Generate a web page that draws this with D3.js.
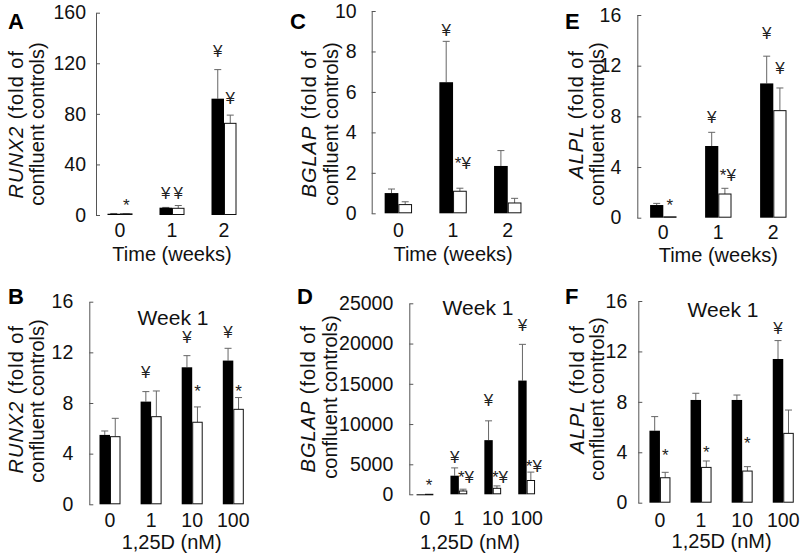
<!DOCTYPE html>
<html>
<head>
<meta charset="utf-8">
<script src="https://cdn.jsdelivr.net/npm/d3@7"></script>
<style>
  html, body { margin: 0; padding: 0; background: #fff; }
  svg { display: block; }
</style>
</head>
<body>
<svg id="chart" width="800" height="559"></svg>
<script>
// ---------------- DATA ----------------
const timeCategories = ["0", "1", "2"];
const doseCategories = ["0", "1", "10", "100"];

// Panel A: RUNX2 over time
const runx2TimeBlack    = [1.0, 5.8, 92];
const runx2TimeBlackErr = [1.2, 6.0, 115];
const runx2TimeWhite    = [0.9, 5.3, 72.5];
const runx2TimeWhiteErr = [1.0, 7.5, 79];
const runx2TimeTicks    = [0, 40, 80, 120, 160];

// Panel C: BGLAP over time
const bglapTimeBlack    = [1.0, 6.48, 2.34];
const bglapTimeBlackErr = [1.2, 8.5, 3.1];
const bglapTimeWhite    = [0.43, 1.09, 0.51];
const bglapTimeWhiteErr = [0.57, 1.24, 0.74];
const bglapTimeTicks    = [0, 2, 4, 6, 8, 10];

// Panel E: ALPL over time
const alplTimeBlack    = [1.0, 5.66, 10.6];
const alplTimeBlackErr = [1.13, 6.74, 12.75];
const alplTimeWhite    = [0.07, 1.87, 8.45];
const alplTimeWhiteErr = [0.07, 2.32, 10.24];
const alplTimeTicks    = [0, 4, 8, 12, 16];

// Panel B: RUNX2 dose, week 1
const runx2DoseBlack    = [5.48, 8.11, 10.82, 11.35];
const runx2DoseBlackErr = [5.79, 8.9, 11.74, 12.32];
const runx2DoseWhite    = [5.34, 6.92, 6.48, 7.5];
const runx2DoseWhiteErr = [6.79, 8.95, 7.69, 8.43];
const runx2DoseTicks    = [0, 4, 8, 12, 16];

// Panel D: BGLAP dose, week 1
const bglapDoseBlack    = [1, 3100, 8000, 15400];
const bglapDoseBlackErr = [1, 4400, 10400, 19900];
const bglapDoseWhite    = [0.4, 550, 1000, 2300];
const bglapDoseWhiteErr = [0.4, 850, 1400, 3700];
const bglapDoseTicks    = [0, 5000, 10000, 15000, 20000, 25000];

// Panel F: ALPL dose, week 1
const alplDoseBlack    = [5.71, 8.15, 8.15, 11.4];
const alplDoseBlackErr = [6.83, 8.68, 8.54, 12.86];
const alplDoseWhite    = [1.98, 2.8, 2.51, 5.5];
const alplDoseWhiteErr = [2.41, 3.31, 2.86, 7.35];
const alplDoseTicks    = [0, 4, 8, 12, 16];

// Significance marks: [group index, series ("b" black / "w" white), symbol, y value]
const runx2TimeMarks = [[0, "w", "*", 10.3], [1, "b", "¥", 17.4], [1, "w", "¥", 17.4], [2, "b", "¥", 129.4], [2, "w", "¥", 92.7]];
const bglapTimeMarks = [[1, "b", "¥", 9.06], [1, "w", "*¥", 2.49]];
const alplTimeMarks  = [[0, "w", "*", 1.26], [1, "b", "¥", 7.97], [1, "w", "*¥", 3.37], [2, "b", "¥", 14.58], [2, "w", "¥", 11.79]];
const runx2DoseMarks = [[1, "b", "¥", 10.47], [2, "b", "¥", 13.24], [2, "w", "*", 9.19], [3, "b", "¥", 13.63], [3, "w", "*", 9.19]];
const bglapDoseMarks = [[0, "w", "*", 2100], [1, "b", "¥", 5944], [1, "w", "*¥", 2933], [2, "b", "¥", 12988], [2, "w", "*¥", 2933], [3, "b", "¥", 22304], [3, "w", "*¥", 4700]];
const alplDoseMarks  = [[0, "w", "*", 4.05], [1, "w", "*", 4.26], [2, "w", "*", 5.03], [3, "b", "¥", 13.84]];

// ---------------- LAYOUT ----------------
const FONT = "'Liberation Sans', Arial, Helvetica, sans-serif";
const panels = [
  { letter: "A", gene: "RUNX2", cats: timeCategories, black: runx2TimeBlack, blackErr: runx2TimeBlackErr, white: runx2TimeWhite, whiteErr: runx2TimeWhiteErr, ticks: runx2TimeTicks, marks: runx2TimeMarks,
    axisX: 96, bandStart: 94, step: 52, barW: 12.5, yBot: 215, yTop: 12.7, tickGap: 10, xTitle: "Time (weeks)",
    line1X: 16, line2X: 37, line1Top: 50, line2Mid: 124, letterX: 8, letterY: 29, xLabY: 230, xTitleY: 254 },
  { letter: "C", gene: "BGLAP", cats: timeCategories, black: bglapTimeBlack, blackErr: bglapTimeBlackErr, white: bglapTimeWhite, whiteErr: bglapTimeWhiteErr, ticks: bglapTimeTicks, marks: bglapTimeMarks,
    axisX: 371.7, bandStart: 371, step: 54.7, barW: 13.7, yBot: 213.3, yTop: 11, tickGap: 15, xTitle: "Time (weeks)",
    line1X: 309, line2X: 331, line1Top: 50, line2Mid: 124, letterX: 290, letterY: 29, xLabY: 230, xTitleY: 254 },
  { letter: "E", gene: "ALPL", cats: timeCategories, black: alplTimeBlack, blackErr: alplTimeBlackErr, white: alplTimeWhite, whiteErr: alplTimeWhiteErr, ticks: alplTimeTicks, marks: alplTimeMarks,
    axisX: 637.3, bandStart: 635.8, step: 55, barW: 13.2, yBot: 217.7, yTop: 15, tickGap: 16, xTitle: "Time (weeks)",
    line1X: 576, line2X: 597, line1Top: 50, line2Mid: 124, letterX: 565, letterY: 29, xLabY: 232, xTitleY: 255 },
  { letter: "B", gene: "RUNX2", cats: doseCategories, black: runx2DoseBlack, blackErr: runx2DoseBlackErr, white: runx2DoseWhite, whiteErr: runx2DoseWhiteErr, ticks: runx2DoseTicks, marks: runx2DoseMarks,
    axisX: 89.3, bandStart: 89.45, step: 41.1, barW: 10.5, yBot: 504.3, yTop: 301.7, tickGap: 16, xTitle: "1,25D (nM)",
    line1X: 16, line2X: 37.3, line1Top: 325, line2Mid: 401, letterX: 8, letterY: 304, xLabY: 520, xTitleY: 542,
    weekX: 173, weekY: 318 },
  { letter: "D", gene: "BGLAP", cats: doseCategories, black: bglapDoseBlack, blackErr: bglapDoseBlackErr, white: bglapDoseWhite, whiteErr: bglapDoseWhiteErr, ticks: bglapDoseTicks, marks: bglapDoseMarks,
    axisX: 409.3, bandStart: 408, step: 33.9, barW: 8.4, yBot: 494.3, yTop: 303.3, yBreak: 464.3, tickGap: 16, xTitle: "1,25D (nM)",
    line1X: 308.3, line2X: 330, line1Top: 325, line2Mid: 397, letterX: 297, letterY: 304, xLabY: 518, xTitleY: 542,
    weekX: 478, weekY: 308, xTitleX: 470 },
  { letter: "F", gene: "ALPL", cats: doseCategories, black: alplDoseBlack, blackErr: alplDoseBlackErr, white: alplDoseWhite, whiteErr: alplDoseWhiteErr, ticks: alplDoseTicks, marks: alplDoseMarks,
    axisX: 638.3, bandStart: 639.4, step: 41.1, barW: 10.5, yBot: 502.7, yTop: 301, tickGap: 11, xTitle: "1,25D (nM)",
    line1X: 576.7, line2X: 597, line1Top: 325, line2Mid: 399, letterX: 565, letterY: 304, xLabY: 520, xTitleY: 541,
    weekX: 723, weekY: 310 }
];

const svg = d3.select("#chart");

panels.forEach(p => {
  const g = svg.append("g");
  const n = p.cats.length;
  const x = d3.scaleBand().domain(p.cats).range([p.bandStart, p.bandStart + p.step * n]).padding(0);
  const maxTick = p.ticks[p.ticks.length - 1];
  let y;
  if (p.yBreak !== undefined) {
    y = d3.scaleLinear().domain([0, p.ticks[1], maxTick]).range([p.yBot, p.yBreak, p.yTop]);
  } else {
    y = d3.scaleLinear().domain([0, maxTick]).range([p.yBot, p.yTop]);
  }
  const cx = c => x(c) + x.bandwidth() / 2;

  // y axis
  const axis = d3.axisLeft(y).tickValues(p.ticks).tickSizeInner(-4).tickSizeOuter(0)
    .tickPadding(p.tickGap).tickFormat(d3.format("d"));
  const ag = g.append("g").attr("transform", `translate(${p.axisX},0)`).call(axis);
  ag.select(".domain").attr("stroke", "#555").attr("stroke-width", 1);
  ag.selectAll(".tick line").attr("stroke", "#555").attr("stroke-width", 1);
  ag.selectAll(".tick text").attr("font-family", FONT).attr("font-size", "19.5px").attr("fill", "#111");

  const rows = p.cats.map((c, i) => ({ c, i, b: p.black[i], be: p.blackErr[i], w: p.white[i], we: p.whiteErr[i] }));

  // error bars (behind the bars)
  const errs = [];
  rows.forEach(r => {
    errs.push({ x: cx(r.c) - p.barW / 2, v: r.b, e: r.be });
    errs.push({ x: cx(r.c) + p.barW / 2, v: r.w, e: r.we });
  });
  const eg = g.append("g").attr("stroke", "#666").attr("stroke-width", 1);
  errs.filter(d => d.e > d.v).forEach(d => {
    eg.append("line").attr("x1", d.x).attr("x2", d.x).attr("y1", y(d.v)).attr("y2", y(d.e));
    eg.append("line").attr("x1", d.x - 3.5).attr("x2", d.x + 3.5).attr("y1", y(d.e)).attr("y2", y(d.e));
  });

  g.selectAll("rect.black").data(rows).join("rect")
    .attr("x", d => cx(d.c) - p.barW)
    .attr("y", d => y(d.b))
    .attr("width", p.barW)
    .attr("height", d => Math.max(1, y(0) - y(d.b)))
    .attr("fill", "#000");
  g.selectAll("rect.white").data(rows).join("rect")
    .attr("x", d => cx(d.c) + 0.5)
    .attr("y", d => y(d.w))
    .attr("width", p.barW - 1)
    .attr("height", d => Math.max(0.5, y(0) - y(d.w) - 0.5))
    .attr("fill", "#fff").attr("stroke", "#111").attr("stroke-width", 1);

  // x labels
  g.selectAll("text.xl").data(p.cats).join("text")
    .attr("x", d => cx(d)).attr("y", p.xLabY).attr("dy", "0.35em")
    .attr("text-anchor", "middle").attr("font-family", FONT).attr("font-size", "19.5px").attr("fill", "#111")
    .text(d => d);
  const xtX = p.xTitleX !== undefined ? p.xTitleX : (cx(p.cats[0]) + cx(p.cats[n - 1])) / 2;
  g.append("text").attr("x", xtX).attr("y", p.xTitleY).attr("dy", "0.35em")
    .attr("text-anchor", "middle").attr("font-family", FONT).attr("font-size", "20px").attr("fill", "#111")
    .text(p.xTitle);

  // y title (two rotated lines)
  const t1 = g.append("text").attr("transform", `translate(${p.line1X},${p.line1Top}) rotate(-90)`)
    .attr("dy", "0.35em").attr("text-anchor", "end").attr("font-family", FONT).attr("font-size", "20px")
    .attr("letter-spacing", "1px").attr("fill", "#111");
  t1.append("tspan").attr("font-style", "italic").text(p.gene);
  t1.append("tspan").text(" (fold of");
  g.append("text").attr("transform", `translate(${p.line2X},${p.line2Mid}) rotate(-90)`)
    .attr("dy", "0.35em").attr("text-anchor", "middle").attr("font-family", FONT).attr("font-size", "20px").attr("fill", "#111")
    .text("confluent controls)");

  // panel letter
  g.append("text").attr("x", p.letterX).attr("y", p.letterY)
    .attr("font-family", FONT).attr("font-weight", "bold").attr("font-size", "22px").attr("fill", "#000")
    .text(p.letter);

  // week label
  if (p.weekX !== undefined) {
    g.append("text").attr("x", p.weekX).attr("y", p.weekY).attr("dy", "0.35em")
      .attr("text-anchor", "middle").attr("font-family", FONT).attr("font-size", "21px").attr("fill", "#111")
      .text("Week 1");
  }

  // significance marks
  p.marks.forEach(([gi, s, sym, v]) => {
    const c = p.cats[gi];
    let mx = s === "b" ? cx(c) - p.barW / 2 : cx(c) + p.barW / 2;
    if (sym === "*¥") mx += 3;
    g.append("text").attr("x", mx).attr("y", y(v))
      .attr("dy", sym === "*" ? "0.55em" : "0.35em")
      .attr("text-anchor", "middle").attr("font-family", FONT).attr("font-size", "17px").attr("fill", "#222")
      .text(sym);
  });
});
</script>
</body>
</html>
